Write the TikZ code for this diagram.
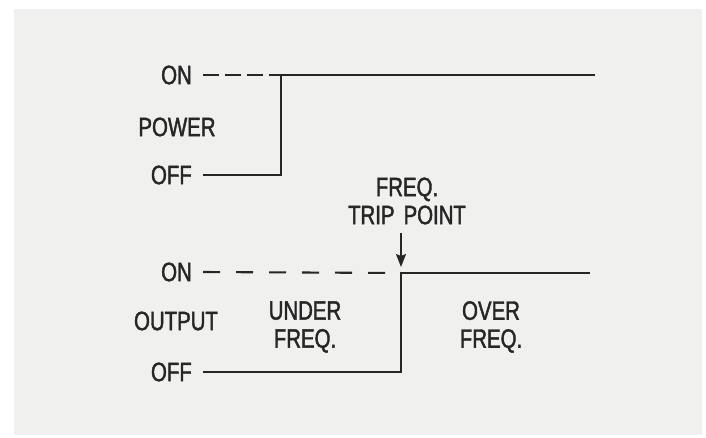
\documentclass[tikz,border=0pt]{standalone}
\usepackage{fontspec}
\setmainfont[FakeStretch=0.77, FakeBold=1.6, WordSpace=1.6]{Liberation Sans}
\usepackage{tikz}
\usetikzlibrary{positioning, arrows.meta}
\definecolor{paper}{RGB}{240, 240, 239}
\definecolor{ink}{RGB}{38, 38, 38}
\tikzstyle{signal} = [ink, line width=2.1pt]
\tikzstyle{level} = [ink, line width=2.1pt]
\tikzstyle{arrow} = [ink, -{Stealth[length=13pt, width=10pt, inset=2pt]}, line width=1.6pt]
\tikzstyle{lbl} = [ink, inner sep=0, font=\fontsize{26.5}{28}\selectfont]
\tikzstyle{tag} = [lbl, anchor=east]

\begin{document}
\begin{tikzpicture}[x=1pt, y=-1pt]
    % paper
    \useasboundingbox (0, 0) rectangle (706, 437);
    \fill[paper] (14, 9) rectangle (702, 435);

    % power levels
    \node[tag] (pon)   at (192, 75)  {ON};
    \node[tag] (poff)  at (192, 175) {OFF};
    \node[lbl] (power) at (177, 127) {POWER};
    \coordinate (pstep) at (281, 75);
    \coordinate (pend)  at (595, 75);

    % output levels
    \node[tag] (oon)    at (192, 272) {ON};
    \node[tag] (ooff)   at (192, 372) {OFF};
    \node[lbl] (output) at (176, 321) {OUTPUT};
    \coordinate (ostep) at (401, 273);
    \coordinate (oend)  at (590, 273);

    % region texts
    \node[lbl, align=center] (under) at (305, 327) {UNDER\\FREQ.};
    \node[lbl, align=center] (over)  at (491, 327) {OVER\\FREQ.};
    \node[lbl, align=center] (trip)  at (407, 201) {FREQ.\\TRIP POINT};
    \coordinate (tripfoot) at (401, 233);

    % traces
    \draw[level, dash pattern=on 16pt off 6pt]  ([xshift=11pt]pon.east) -- (pstep);
    \draw[signal] ([xshift=11pt]poff.east) -| (pstep) -- (pend);
    \draw[level, dash pattern=on 17pt off 16pt] ([xshift=11pt]oon.east) -- (ostep);
    \draw[signal] ([xshift=11pt]ooff.east) -| (ostep) -- (oend);
    \draw[arrow, shorten >=6pt]  (tripfoot) -- (ostep);
\end{tikzpicture}
\end{document}
